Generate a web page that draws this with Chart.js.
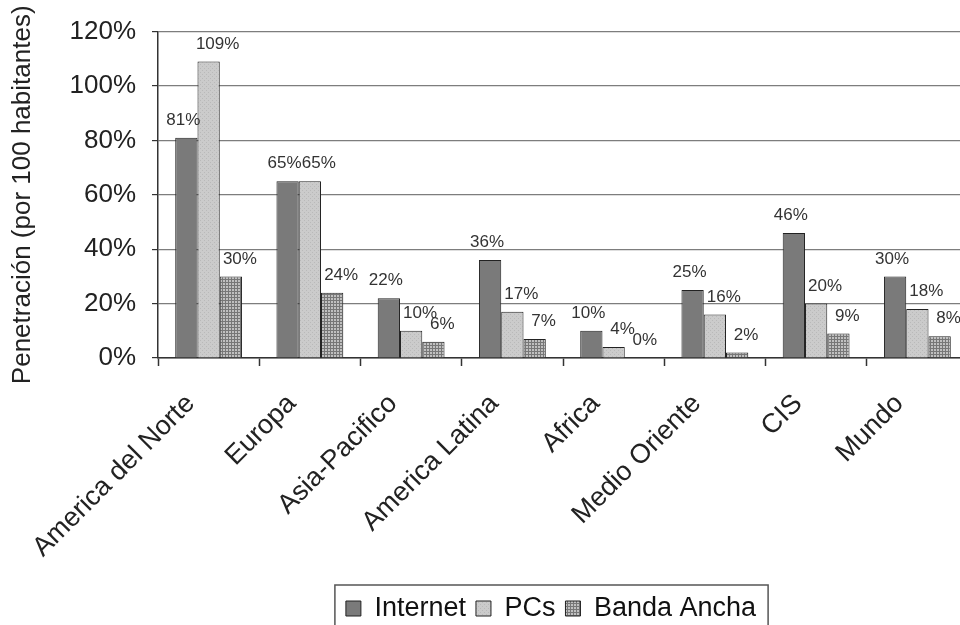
<!DOCTYPE html>
<html>
<head>
<meta charset="utf-8">
<script src="https://cdn.jsdelivr.net/npm/chart.js@4.4.1/dist/chart.umd.min.js"></script>
<style>
  html, body { margin: 0; padding: 0; background: #fff; overflow: hidden; }
  #wrap { width: 975px; height: 642px; }
</style>
</head>
<body>
<div id="wrap"><canvas id="mycanvas"></canvas></div>
<script>
// Datos del grafico
var regiones = ['America del Norte', 'Europa', 'Asia-Pacifico', 'America Latina', 'Africa', 'Medio Oriente', 'CIS', 'Mundo'];
var internet = [81, 65, 22, 36, 10, 25, 46, 30];
var pcs = [109, 65, 10, 17, 4, 16, 20, 18];
var bandaAncha = [30, 24, 6, 7, 0, 2, 9, 8];
var yTicks = [0, 20, 40, 60, 80, 100, 120];

var FONT = "'Liberation Sans', Arial, sans-serif";

// Muster fuer PCs (leicht gepunktet)
function patronPCs() {
    var c = document.createElement('canvas');
    c.width = 4; c.height = 4;
    var x = c.getContext('2d');
    x.fillStyle = '#cbcbcb';
    x.fillRect(0, 0, 4, 4);
    x.fillStyle = '#b9b9b9';
    x.fillRect(0, 0, 1, 1);
    x.fillRect(2, 2, 1, 1);
    return x.createPattern(c, 'repeat');
}

// Muster fuer Banda Ancha (Gitter)
function patronBanda() {
    var c = document.createElement('canvas');
    c.width = 3; c.height = 3;
    var x = c.getContext('2d');
    x.fillStyle = '#c0c0c0';
    x.fillRect(0, 0, 3, 3);
    x.fillStyle = '#777';
    x.fillRect(0, 0, 3, 1);
    x.fillRect(0, 0, 1, 3);
    return x.createPattern(c, 'repeat');
}

// Etiquetas encima de las barras (desplazamiento por serie)
var desplazamiento = [-3, 9, 9];
var etiquetas = {
    id: 'etiquetas',
    afterDatasetsDraw: function (chart) {
        var ctx = chart.ctx;
        ctx.save();
        ctx.font = '17px ' + FONT;
        ctx.fillStyle = '#333';
        ctx.textAlign = 'center';
        ctx.textBaseline = 'bottom';
        chart.data.datasets.forEach(function (ds, i) {
            chart.getDatasetMeta(i).data.forEach(function (bar, j) {
                ctx.fillText(ds.data[j] + '%', bar.x + desplazamiento[i], bar.y - 9);
            });
        });
        ctx.restore();
    }
};

// Leyenda un poco a la izquierda, con marco
var marcoLeyenda = {
    id: 'marcoLeyenda',
    afterLayout: function (chart) {
        if (chart.legend) {
            chart.legend.left -= 12;
            chart.legend.right -= 12;
        }
    },
    afterDraw: function (chart) {
        var lg = chart.legend;
        if (!lg || !lg.legendHitBoxes.length) return;
        var hb = lg.legendHitBoxes;
        var left = hb[0].left - 11;
        var right = hb[hb.length - 1].left + hb[hb.length - 1].width + 12;
        var ctx = chart.ctx;
        ctx.save();
        ctx.strokeStyle = '#555';
        ctx.lineWidth = 1.5;
        ctx.strokeRect(left, lg.top, right - left, lg.height + 20);
        ctx.restore();
    }
};

var chartdata = {
    labels: regiones,
    datasets: [
        { label: 'Internet', data: internet, backgroundColor: '#7a7a7a', borderColor: '#222', borderWidth: 1 },
        { label: 'PCs', data: pcs, backgroundColor: patronPCs(), borderColor: '#222', borderWidth: 1 },
        { label: 'Banda Ancha', data: bandaAncha, backgroundColor: patronBanda(), borderColor: '#222', borderWidth: 1 }
    ]
};

var ctx = document.getElementById('mycanvas');

var barGraph = new Chart(ctx, {
    type: 'bar',
    data: chartdata,
    plugins: [etiquetas, marcoLeyenda],
    options: {
        responsive: true,
        maintainAspectRatio: false,
        animation: false,
        layout: { padding: { top: 29, right: 7, bottom: 10, left: 0 } },
        datasets: { bar: { categoryPercentage: 0.66, barPercentage: 1.0 } },
        plugins: {
            legend: {
                position: 'bottom',
                fullSize: false,
                labels: {
                    font: { family: FONT, size: 27 },
                    color: '#111',
                    boxWidth: 15,
                    boxHeight: 15,
                    padding: 10
                }
            },
            tooltip: { enabled: false }
        },
        scales: {
            x: {
                grid: { display: true, drawOnChartArea: false, drawTicks: true, tickLength: 8, offset: true, tickColor: '#333', tickWidth: 1.5 },
                border: { color: '#333', width: 1.5 },
                ticks: {
                    font: { family: FONT, size: 27 },
                    color: '#222',
                    minRotation: 45,
                    maxRotation: 45,
                    autoSkip: false,
                    labelOffset: -18,
                    padding: 22
                },
                afterFit: function (scale) { scale.height = 227; }
            },
            y: {
                min: 0,
                max: 120,
                afterBuildTicks: function (scale) {
                    scale.ticks = yTicks.map(function (v) { return { value: v }; });
                },
                grid: { color: '#7d7d7d', lineWidth: 1.2, tickLength: 6, tickColor: '#333' },
                border: { color: '#333', width: 1.5 },
                ticks: {
                    font: { family: FONT, size: 26 },
                    color: '#222',
                    padding: 16,
                    callback: function (v) { return v + '%'; }
                },
                title: {
                    display: true,
                    text: 'Penetración (por 100 habitantes)',
                    font: { family: FONT, size: 26 },
                    color: '#222',
                    padding: { top: 7, bottom: 0 }
                },
                afterFit: function (scale) { scale.width = 158; }
            }
        }
    }
});
</script>
</body>
</html>
